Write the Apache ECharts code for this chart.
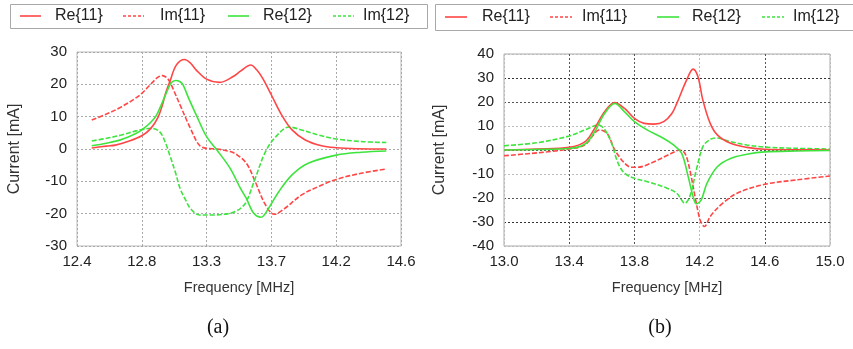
<!DOCTYPE html>
<html>
<head>
<meta charset="utf-8">
<title>Current vs Frequency</title>
<script src="https://cdn.jsdelivr.net/npm/echarts@6/dist/echarts.min.js"></script>
<style>
  html, body { margin: 0; padding: 0; background: #fff; }
  #chart { width: 853px; height: 349px; }
</style>
</head>
<body>
<div id="chart"></div>
<script>
// ---- Panel (a): frequency [MHz], current [mA] ----
const re11A = [[12.5, 0.3], [12.6, 0.9], [12.66, 1.2], [12.75, 2.4], [12.84, 4.1], [12.9, 6.3], [12.95, 9.8], [12.98, 13.6], [13.0, 17.0], [13.03, 20.8], [13.075, 26.0], [13.13, 27.7], [13.17, 26.6], [13.21, 24.4], [13.28, 21.6], [13.37, 20.6], [13.46, 22.4], [13.51, 24.1], [13.58, 26.0], [13.62, 24.5], [13.66, 21.9], [13.72, 16.7], [13.79, 10.5], [13.86, 5.9], [13.95, 2.8], [14.06, 1.0], [14.16, 0.4], [14.3, 0.1], [14.5, 0.0]];
const im11A = [[12.5, 9.0], [12.6, 10.8], [12.7, 13.0], [12.8, 15.8], [12.84, 17.2], [12.9, 20.0], [12.95, 22.2], [12.98, 22.7], [13.01, 22.0], [13.03, 20.8], [13.06, 17.8], [13.10, 13.6], [13.17, 6.4], [13.23, 1.2], [13.28, 0.2], [13.35, 0.0], [13.44, -0.8], [13.48, -1.6], [13.55, -4.4], [13.61, -10.1], [13.68, -17.3], [13.74, -20.2], [13.81, -18.4], [13.925, -14.2], [14.04, -11.6], [14.16, -9.4], [14.33, -7.5], [14.5, -6.2]];
const re12A = [[12.5, 1.0], [12.6, 1.8], [12.7, 2.9], [12.8, 4.8], [12.84, 5.9], [12.9, 8.2], [12.94, 10.5], [12.98, 14.5], [13.01, 17.7], [13.04, 20.5], [13.07, 21.2], [13.1, 20.8], [13.12, 19.8], [13.16, 15.5], [13.21, 10.5], [13.28, 3.8], [13.35, -0.3], [13.44, -6.0], [13.51, -12.2], [13.55, -15.3], [13.6, -19.9], [13.65, -21.1], [13.70, -18.4], [13.77, -13.2], [13.86, -8.0], [13.97, -4.4], [14.16, -1.9], [14.33, -1.0], [14.5, -0.6]];
const im12A = [[12.5, 2.5], [12.6, 3.3], [12.7, 4.3], [12.8, 5.6], [12.84, 6.0], [12.9, 6.4], [12.96, 5.4], [13.0, 2.0], [13.03, -1.9], [13.07, -7.5], [13.10, -12.2], [13.14, -16.0], [13.17, -18.4], [13.23, -20.4], [13.33, -20.4], [13.44, -19.9], [13.48, -19.2], [13.51, -18.4], [13.55, -16.3], [13.61, -9.1], [13.68, -0.8], [13.75, 3.8], [13.84, 6.8], [13.925, 5.9], [14.04, 4.3], [14.16, 3.1], [14.33, 2.3], [14.5, 2.0]];

// ---- Panel (b) ----
const re11B = [[13.0, 0.0], [13.2, 0.4], [13.4, 1.1], [13.5, 3.6], [13.556, 9.0], [13.617, 15.9], [13.678, 19.8], [13.74, 17.3], [13.80, 13.2], [13.86, 11.1], [13.92, 10.8], [13.98, 11.8], [14.03, 15.2], [14.06, 19.4], [14.12, 29.1], [14.16, 33.7], [14.19, 30.5], [14.22, 20.8], [14.265, 11.1], [14.31, 6.2], [14.39, 2.8], [14.49, 1.1], [14.6, 0.3], [14.8, 0.1], [15.0, 0.0]];
const im11B = [[13.0, -2.4], [13.17, -1.4], [13.3, -0.5], [13.4, 0.4], [13.495, 2.1], [13.556, 6.9], [13.58, 8.3], [13.61, 8.0], [13.64, 6.2], [13.68, 0.0], [13.74, -5.5], [13.78, -7.2], [13.82, -7.2], [13.90, -5.5], [14.0, -2.3], [14.06, -0.3], [14.075, 0.0], [14.11, -1.4], [14.14, -8.3], [14.18, -22.2], [14.205, -29.5], [14.23, -31.9], [14.265, -27.7], [14.33, -22.9], [14.43, -18.0], [14.6, -14.3], [14.79, -12.5], [15.0, -10.8]];
const re12B = [[13.0, 0.0], [13.2, 0.2], [13.4, 0.6], [13.495, 2.4], [13.556, 7.6], [13.617, 15.2], [13.68, 19.4], [13.74, 15.9], [13.80, 11.8], [13.88, 8.3], [13.98, 4.8], [14.04, 2.1], [14.09, -1.4], [14.13, -11.1], [14.16, -19.4], [14.18, -22.4], [14.21, -20.8], [14.245, -13.9], [14.31, -6.9], [14.39, -3.5], [14.49, -1.8], [14.6, -0.8], [14.8, -0.4], [15.0, -0.2]];
const im12B = [[13.0, 1.8], [13.2, 3.0], [13.4, 5.8], [13.495, 8.3], [13.58, 10.4], [13.62, 8.3], [13.66, 2.8], [13.70, -5.5], [13.74, -9.7], [13.80, -11.8], [13.88, -13.2], [14.0, -15.9], [14.06, -18.0], [14.11, -22.2], [14.14, -19.4], [14.18, -8.3], [14.22, 1.4], [14.26, 4.2], [14.3, 5.0], [14.39, 3.5], [14.49, 2.1], [14.6, 1.2], [14.79, 0.7], [15.0, 0.4]];

const seriesNames = ['Re{11}', 'Im{11}', 'Re{12}', 'Im{12}'];
const panelLabels = ['(a)', '(b)'];

// Frequency axes: start, span and tick step per panel
const freqStartA = 12.4, freqSpanA = 2.2, freqStepA = 0.44;
const freqStartB = 13.0, freqSpanB = 2.0, freqStepB = 0.4;
const currentRangeA = [-30, 30];
const currentRangeB = [-40, 40];
const currentStep = 10;

const RED = '#ff4646';
const GREEN = '#3ee43e';
const FONT = 'Liberation Sans, Arial, sans-serif';
const seriesColors = [RED, RED, GREEN, GREEN];
const seriesDashed = [false, true, false, true];

// Shift frequencies so that the first tick sits at zero on the axis
const shift = (pts, f0) => pts.map(p => [p[0] - f0, p[1]]);

function lineSeries(k, pts, f0, axisIndex) {
  const dashed = seriesDashed[k];
  return {
    type: 'line', name: seriesNames[k],
    xAxisIndex: axisIndex, yAxisIndex: axisIndex,
    data: shift(pts, f0),
    smooth: 0.35, symbol: 'none', silent: true,
    lineStyle: { color: seriesColors[k], width: 1.6, type: dashed ? [5, 2] : 'solid' },
    itemStyle: { color: seriesColors[k] },
    z: dashed ? 3 : 4
  };
}

function xAxisFor(index, f0, span, step) {
  return {
    type: 'value', gridIndex: index, min: 0, max: span, interval: step,
    name: 'Frequency [MHz]', nameLocation: 'middle', nameGap: 34,
    nameTextStyle: { fontFamily: FONT, fontSize: 14.5, color: '#333' },
    axisLine: { show: false }, axisTick: { show: false },
    axisLabel: { margin: 8, fontFamily: FONT, fontSize: 15, color: '#222',
      formatter: v => (v + f0).toFixed(1) },
    splitLine: { show: true, lineStyle: { type: [2, 2], width: 1,
      color: index === 0 ? '#aaa' : ['#bbb', '#555', '#555', '#bbb', '#555', '#bbb'] } }
  };
}

function yAxisFor(index, range, gap, gridColors) {
  return {
    type: 'value', gridIndex: index, min: range[0], max: range[1], interval: currentStep,
    name: 'Current [mA]', nameLocation: 'middle', nameGap: gap,
    nameTextStyle: { fontFamily: FONT, fontSize: 16, color: '#333' },
    axisLine: { show: false }, axisTick: { show: false },
    axisLabel: { margin: 10, fontFamily: FONT, fontSize: 15, color: '#222' },
    splitLine: { show: true, lineStyle: { type: [2, 2], width: 1, color: gridColors } }
  };
}

// Legend rows: a line sample followed by the series name
function legendRow(frame, iconX, textX, iconLen, cy) {
  const els = [{ type: 'rect', left: frame[0], top: frame[1], z: 1,
    shape: { width: frame[2], height: frame[3] },
    style: { fill: '#fff', stroke: '#a8a8a8', lineWidth: 1 } }];
  seriesNames.forEach((name, k) => {
    els.push({ type: 'line', z: 2,
      shape: { x1: iconX[k], y1: cy, x2: iconX[k] + iconLen, y2: cy },
      style: { stroke: seriesColors[k], lineWidth: 1.6, lineDash: seriesDashed[k] ? [3, 2] : null } });
    els.push({ type: 'text', x: textX[k], y: cy, z: 2,
      style: { text: name, font: '16px ' + FONT, fill: '#222', verticalAlign: 'middle' } });
  });
  return els;
}

const chart = echarts.init(document.getElementById('chart'), null, { renderer: 'canvas' });

chart.setOption({
  animation: false,
  backgroundColor: '#fff',
  grid: [
    { left: 77, top: 52, width: 324, height: 194, show: true, borderColor: '#bbb', borderWidth: 1, backgroundColor: 'transparent' },
    { left: 504, top: 54, width: 326, height: 192, show: true, borderColor: '#aaa', borderWidth: 1, backgroundColor: 'transparent' }
  ],
  xAxis: [
    xAxisFor(0, freqStartA, freqSpanA, freqStepA),
    xAxisFor(1, freqStartB, freqSpanB, freqStepB)
  ],
  yAxis: [
    yAxisFor(0, currentRangeA, 54, '#aaa'),
    yAxisFor(1, currentRangeB, 56, ['#bbb', '#333', '#555', '#bbb', '#555', '#bbb', '#555', '#333', '#bbb'])
  ],
  series: [
    lineSeries(0, re11A, freqStartA, 0),
    lineSeries(1, im11A, freqStartA, 0),
    lineSeries(2, re12A, freqStartA, 0),
    lineSeries(3, im12A, freqStartA, 0),
    lineSeries(0, re11B, freqStartB, 1),
    lineSeries(1, im11B, freqStartB, 1),
    lineSeries(2, re12B, freqStartB, 1),
    lineSeries(3, im12B, freqStartB, 1)
  ],
  graphic: [
    ...legendRow([10, 4, 417, 24], [20, 123, 228, 333], [55, 160, 263, 363], 21, 16),
    ...legendRow([435, 4, 430, 26], [445, 550, 657, 762], [482, 582, 692, 793], 22, 17),
    // panel captions
    { type: 'text', x: 218, y: 328, style: { text: panelLabels[0], font: '20px "Liberation Serif", "Times New Roman", serif', fill: '#111', align: 'center', verticalAlign: 'middle' } },
    { type: 'text', x: 660, y: 328, style: { text: panelLabels[1], font: '20px "Liberation Serif", "Times New Roman", serif', fill: '#111', align: 'center', verticalAlign: 'middle' } }
  ]
});
</script>
</body>
</html>
